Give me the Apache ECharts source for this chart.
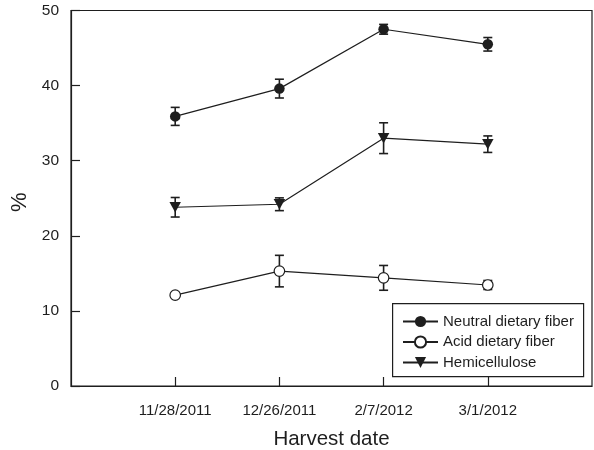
<!DOCTYPE html>
<html><head><meta charset="utf-8">
<script src="https://cdn.jsdelivr.net/npm/echarts@6/dist/echarts.min.js"></script>
<style>html,body{margin:0;padding:0;background:#fff}#c{width:594px;height:450px}</style>
</head><body><div id="c"></div>
<script>
const categories = ['11/28/2011', '12/26/2011', '2/7/2012', '3/1/2012'];
const yTicks = [0, 10, 20, 30, 40, 50];
const ndf = [35.9, 39.6, 47.5, 45.5];
const ndfErr = [1.2, 1.25, 0.65, 0.9];
const adf = [12.1, 15.3, 14.4, 13.45];
const adfErr = [0.3, 2.1, 1.65, 0.6];
const hemi = [23.8, 24.2, 33.0, 32.2];
const hemiErr = [1.3, 0.85, 2.05, 1.1];

const ink = '#1e1e1e';
const font = 'Liberation Sans, Arial, sans-serif';
const toPts = v => v.map((y, i) => [i + 1, y]);
const toErr = (v, e) => v.map((y, i) => [i + 1, y - e[i], y + e[i]]);

function errSeries(name, v, e) {
  return {
    type: 'custom', name: name + ' err', z: 1, silent: true,
    data: toErr(v, e),
    renderItem: function (params, api) {
      const x = api.value(0);
      const lo = api.coord([x, api.value(1)]);
      const hi = api.coord([x, api.value(2)]);
      const w = 4.5;
      const st = { stroke: ink, lineWidth: 1.6 };
      return { type: 'group', children: [
        { type: 'line', shape: { x1: lo[0], y1: lo[1], x2: hi[0], y2: hi[1] }, style: st },
        { type: 'line', shape: { x1: lo[0] - w, y1: lo[1], x2: lo[0] + w, y2: lo[1] }, style: st },
        { type: 'line', shape: { x1: hi[0] - w, y1: hi[1], x2: hi[0] + w, y2: hi[1] }, style: st }
      ]};
    }
  };
}

const chart = echarts.init(document.getElementById('c'));
chart.setOption({
  animation: false,
  textStyle: { fontFamily: font, color: ink },
  grid: { left: 71, right: 2, top: 10.5, bottom: 64, outerBoundsMode: 'none', containLabel: false,
          show: true, borderColor: ink, borderWidth: 1.2 },
  graphic: [{
    type: 'rect', left: 392, top: 303, z: 10,
    shape: { width: 191, height: 73 },
    style: { fill: '#fff', stroke: ink, lineWidth: 1.2 }
  }],
  xAxis: {
    type: 'value', min: 0, max: 5, interval: 1,
    name: 'Harvest date', nameLocation: 'middle', nameGap: 43,
    nameTextStyle: { fontSize: 20.5, color: ink, fontFamily: font },
    axisLine: { show: true, lineStyle: { color: ink, width: 1.2 } },
    axisTick: { show: true, inside: true, length: 9, customValues: [1, 2, 3, 4], lineStyle: { color: ink, width: 1.2 } },
    axisLabel: { customValues: [1, 2, 3, 4], formatter: v => categories[v - 1] || '', fontSize: 15, color: ink, margin: 17.5, fontFamily: font },
    splitLine: { show: false }
  },
  yAxis: {
    type: 'value', min: 0, max: 50, interval: 10,
    name: '%', nameLocation: 'middle', nameGap: 32, nameRotate: 90,
    nameTextStyle: { fontSize: 22, color: ink, fontFamily: font, padding: [0, 8, 0, 0] },
    axisLine: { show: true, lineStyle: { color: ink, width: 1.2 } },
    axisTick: { show: true, inside: true, length: 9, lineStyle: { color: ink, width: 1.2 } },
    axisLabel: { fontSize: 15.5, color: ink, margin: 12, fontFamily: font, formatter: v => yTicks.includes(v) ? String(v) : '' },
    splitLine: { show: false }
  },
  legend: {
    orient: 'vertical', left: 402, top: 314, z: 11,
    padding: 0, itemGap: 5.5, itemWidth: 35, itemHeight: 14,
    textStyle: { fontSize: 15, color: ink, fontFamily: font, padding: [0, 0, 0, 0] },
    data: ['Neutral dietary fiber', 'Acid dietary fiber', 'Hemicellulose']
  },
  series: [
    errSeries('ndf', ndf, ndfErr),
    errSeries('adf', adf, adfErr),
    errSeries('hemi', hemi, hemiErr),
    { type: 'line', name: 'Neutral dietary fiber', z: 3, data: toPts(ndf), symbol: 'circle', symbolSize: 10.5,
      lineStyle: { color: ink, width: 1.2 }, itemStyle: { color: ink, borderColor: ink, borderWidth: 0 } },
    { type: 'line', name: 'Acid dietary fiber', z: 3, data: toPts(adf), symbol: 'circle', symbolSize: 10.5,
      lineStyle: { color: ink, width: 1.2 }, itemStyle: { color: '#fff', borderColor: ink, borderWidth: 1.2 } },
    { type: 'line', name: 'Hemicellulose', z: 3, data: toPts(hemi), symbol: 'triangle', symbolRotate: 180, symbolSize: [11.5, 10.5],
      lineStyle: { color: ink, width: 1.2 }, itemStyle: { color: ink, borderColor: ink, borderWidth: 0 } }
  ]
});
</script></body></html>
